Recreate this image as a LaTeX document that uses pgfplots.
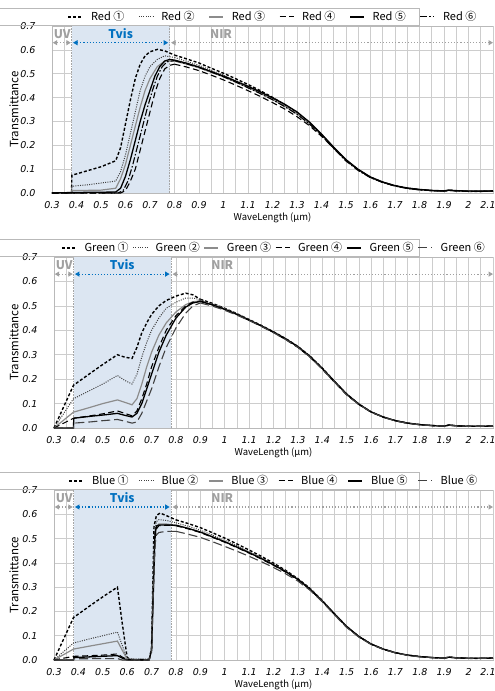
\documentclass[border=0pt]{standalone}
\usepackage{fontspec}
\setmainfont{Noto Sans CJK KR}
\newfontfamily\tickfont{DejaVu Sans}
\usepackage{pgfplots}
\pgfplotsset{compat=1.18}
\usepackage{pgfplotstable}
\usetikzlibrary{arrows.meta,calc}

\definecolor{tvisfill}{RGB}{220,230,242}
\definecolor{tvisblue}{RGB}{0,112,192}
\definecolor{lbl}{RGB}{160,160,160}
\definecolor{gridc}{RGB}{205,205,205}

% NIR part, lam >= 0.8
\pgfplotstableread{
lam  c1    c2    c3    c4    c5    c6
0.80 0.578 0.568 0.553 0.540 0.557 0.555
0.85 0.562 0.552 0.540 0.528 0.544 0.541
0.90 0.545 0.535 0.525 0.513 0.528 0.526
0.95 0.523 0.514 0.506 0.494 0.509 0.507
1.00 0.502 0.494 0.487 0.474 0.490 0.487
1.05 0.479 0.471 0.465 0.452 0.469 0.465
1.10 0.455 0.448 0.442 0.429 0.447 0.441
1.15 0.429 0.423 0.418 0.405 0.424 0.417
1.20 0.401 0.396 0.392 0.379 0.399 0.391
1.25 0.370 0.367 0.364 0.352 0.372 0.362
1.30 0.336 0.334 0.332 0.320 0.340 0.330
1.35 0.295 0.293 0.292 0.283 0.298 0.290
1.40 0.245 0.244 0.243 0.238 0.247 0.242
1.45 0.190 0.191 0.190 0.188 0.192 0.186
1.50 0.138 0.139 0.138 0.138 0.140 0.134
1.55 0.097 0.098 0.097 0.097 0.099 0.094
1.60 0.066 0.066 0.066 0.066 0.067 0.064
1.65 0.045 0.045 0.045 0.045 0.046 0.044
1.70 0.030 0.030 0.030 0.030 0.031 0.029
1.75 0.020 0.020 0.020 0.020 0.021 0.019
1.80 0.014 0.014 0.014 0.014 0.015 0.013
1.85 0.010 0.010 0.010 0.010 0.011 0.010
1.90 0.008 0.008 0.008 0.008 0.009 0.008
1.92 0.012 0.012 0.011 0.012 0.012 0.011
1.95 0.009 0.009 0.009 0.009 0.010 0.009
2.00 0.007 0.007 0.007 0.007 0.008 0.007
2.05 0.007 0.007 0.007 0.007 0.008 0.007
2.10 0.008 0.008 0.008 0.008 0.009 0.008
}\rednir

\pgfplotstableread{
lam  c1    c2    c3    c4    c5    c6
0.90 0.527 0.525 0.520 0.520 0.518 0.512
0.95 0.510 0.508 0.505 0.504 0.504 0.499
1.00 0.490 0.489 0.487 0.486 0.486 0.482
1.05 0.468 0.467 0.465 0.464 0.465 0.462
1.10 0.444 0.443 0.442 0.441 0.442 0.440
1.15 0.420 0.419 0.418 0.417 0.418 0.416
1.20 0.394 0.393 0.392 0.391 0.393 0.390
1.25 0.366 0.365 0.364 0.362 0.365 0.362
1.30 0.334 0.333 0.332 0.330 0.333 0.330
1.35 0.294 0.293 0.292 0.290 0.293 0.290
1.40 0.245 0.244 0.243 0.241 0.244 0.241
1.45 0.191 0.190 0.190 0.188 0.191 0.188
1.50 0.139 0.138 0.138 0.136 0.139 0.136
1.55 0.098 0.097 0.097 0.096 0.098 0.096
1.60 0.066 0.066 0.066 0.065 0.066 0.065
1.65 0.045 0.045 0.045 0.044 0.045 0.044
1.70 0.030 0.030 0.030 0.030 0.030 0.029
1.75 0.020 0.020 0.020 0.020 0.020 0.019
1.80 0.014 0.014 0.014 0.014 0.014 0.013
1.85 0.010 0.010 0.010 0.010 0.010 0.010
1.90 0.008 0.008 0.008 0.008 0.008 0.008
1.92 0.012 0.012 0.011 0.012 0.012 0.011
1.95 0.009 0.009 0.009 0.009 0.009 0.009
2.00 0.007 0.007 0.007 0.007 0.007 0.007
2.05 0.007 0.007 0.007 0.007 0.007 0.007
2.10 0.008 0.008 0.008 0.008 0.008 0.008
}\greennir

\pgfplotstableread{
lam  c1    c2    c3    c4    c5    c6
0.80 0.577 0.565 0.555 0.553 0.555 0.530
0.85 0.562 0.551 0.542 0.540 0.542 0.518
0.90 0.545 0.535 0.527 0.525 0.527 0.505
0.95 0.524 0.514 0.507 0.505 0.507 0.487
1.00 0.502 0.493 0.487 0.485 0.487 0.468
1.05 0.478 0.470 0.465 0.463 0.465 0.448
1.10 0.453 0.446 0.442 0.440 0.442 0.427
1.15 0.427 0.421 0.418 0.416 0.418 0.405
1.20 0.399 0.394 0.392 0.390 0.392 0.381
1.25 0.369 0.366 0.364 0.362 0.364 0.355
1.30 0.335 0.333 0.332 0.330 0.332 0.325
1.35 0.295 0.293 0.292 0.290 0.292 0.287
1.40 0.245 0.244 0.243 0.241 0.243 0.240
1.45 0.190 0.190 0.190 0.188 0.190 0.186
1.50 0.138 0.138 0.138 0.136 0.138 0.134
1.55 0.097 0.097 0.097 0.096 0.097 0.094
1.60 0.066 0.066 0.066 0.065 0.066 0.064
1.65 0.045 0.045 0.045 0.044 0.045 0.044
1.70 0.030 0.030 0.030 0.030 0.030 0.029
1.75 0.020 0.020 0.020 0.020 0.020 0.019
1.80 0.014 0.014 0.014 0.014 0.014 0.013
1.85 0.010 0.010 0.010 0.010 0.010 0.010
1.90 0.008 0.008 0.008 0.008 0.008 0.008
1.92 0.012 0.012 0.011 0.012 0.012 0.011
1.95 0.009 0.009 0.009 0.009 0.009 0.009
2.00 0.007 0.007 0.007 0.007 0.007 0.007
2.05 0.007 0.007 0.007 0.007 0.007 0.007
2.10 0.008 0.008 0.008 0.008 0.008 0.008
}\bluenir

\tikzset{
  s1/.style={black, line width=1.4pt, dash pattern=on 3pt off 2pt},
  s2/.style={black!75, line width=1pt, dash pattern=on 1pt off 1.3pt},
  s3/.style={black!45, line width=1.2pt},
  s4/.style={black, line width=1.1pt, dash pattern=on 6pt off 3.5pt},
  s5/.style={black, line width=1.3pt},
  s6/.style={black, line width=1.1pt, dash pattern=on 7pt off 2pt on 1.5pt off 2pt},
  s6b/.style={black!75, line width=1.1pt, dash pattern=on 9pt off 4pt},
  uvarr/.style={lbl, dotted, line width=1.1pt,
    {Triangle[length=4.5pt,width=5pt]}-{Triangle[length=4.5pt,width=5pt]}},
  lab/.style={font=\bfseries\fontsize{12}{12}\selectfont},
}

\newcommand{\deco}{%
  \fill[tvisfill] (axis cs:0.38,0) rectangle (axis cs:0.78,0.7);
  \draw[gray!70, densely dotted, line width=0.6pt] (axis cs:0.38,0) -- (axis cs:0.38,0.7);
  \draw[gray!70, densely dotted, line width=0.6pt] (axis cs:0.78,0) -- (axis cs:0.78,0.7);
  \draw[gray!55, line width=0.7pt] ($(rel axis cs:0,1)+(0,1pt)$) rectangle ($(rel axis cs:1,1)+(0,18pt)$);
  \node[lab, text=lbl] at (axis cs:0.342,0.668) {UV};
  \node[lab, text=tvisblue] at (axis cs:0.58,0.668) {Tvis};
  \node[lab, text=lbl] at (axis cs:0.99,0.668) {NIR};
  \draw[uvarr] (axis cs:0.303,0.63) -- (axis cs:0.377,0.63);
  \draw[uvarr, tvisblue] (axis cs:0.386,0.63) -- (axis cs:0.774,0.63);
  \draw[uvarr] (axis cs:0.786,0.63) -- (axis cs:2.1,0.63);
}

\pgfplotsset{
  panel/.style={
    scale only axis, anchor=south west, clip=false,
    xmin=0.3, xmax=2.1, ymin=0, ymax=0.7,
    xtick={0.3,0.4,0.5,0.6,0.7,0.8,0.9,1,1.1,1.2,1.3,1.4,1.5,1.6,1.7,1.8,1.9,2},
    extra x ticks={2.1},
    extra x tick style={grid=major, xticklabel style={xshift=-5pt}},
    minor xtick={0.35,0.45,0.55,0.65,0.75,0.85,0.95,1.05,1.15,1.25,1.35,1.45,1.55,1.65,1.75,1.85,1.95,2.05},
    ytick={0,0.1,0.2,0.3,0.4,0.5,0.6,0.7},
    grid=both,
    major grid style={gridc, line width=0.7pt},
    minor grid style={gridc, line width=0.7pt},
    axis line style={gray!55, line width=0.7pt},
    major tick length=0pt, minor tick length=0pt,
    /pgf/number format/assume math mode=true,
    xticklabel style={font=\tickfont\itshape\fontsize{9.5}{9.5}\selectfont,
      anchor=center, yshift=-12pt,
      /pgf/number format/fixed, /pgf/number format/precision=1},
    yticklabel style={font=\tickfont\itshape\fontsize{9.5}{9.5}\selectfont,
      anchor=east, xshift=-13pt,
      /pgf/number format/fixed, /pgf/number format/fixed zerofill,
      /pgf/number format/precision=1},
    xlabel={WaveLength (μm)}, ylabel={Transmittance},
    xlabel style={font=\fontsize{9.5}{9.5}\selectfont, at={(rel axis cs:0.5,0)},
      anchor=center, yshift=-25pt},
    ylabel style={font=\fontsize{11.5}{11.5}\selectfont, anchor=center},
    legend columns=6,
    legend cell align=left,
    legend image code/.code={\draw[##1] (0pt,0pt) -- (14pt,0pt);},
    legend style={at={(0.5,1)}, anchor=south, yshift=0.5pt, draw=none, fill=none,
      font=\fontsize{11}{11}\selectfont, inner sep=1pt,
      nodes={inner xsep=1pt, inner ysep=2pt},
      /tikz/every odd column/.append style={column sep=7pt}},
  },
}

\begin{document}
\begin{tikzpicture}
\path[use as bounding box] (0pt,0pt) rectangle (495pt,-691pt);

% ---------------- Red ----------------
\begin{axis}[panel, at={(52pt,-193pt)}, width=441pt, height=167pt,
  ylabel style={at={(rel axis cs:-0.086,0.5)}},
  legend style={/tikz/every even column/.append style={column sep=13pt}}]
  \deco
  \addplot[s1] coordinates {(0.30,0)(0.38,0)(0.381,0.075)(0.40,0.08)(0.45,0.095)(0.50,0.11)(0.56,0.135)(0.58,0.19)(0.60,0.29)(0.62,0.39)(0.64,0.48)(0.66,0.54)(0.68,0.575)(0.70,0.592)(0.73,0.602)(0.76,0.596)(0.80,0.578)};
  \addlegendentry{Red ①}
  \addplot[s2] coordinates {(0.30,0)(0.38,0)(0.381,0.028)(0.45,0.035)(0.56,0.05)(0.58,0.09)(0.60,0.16)(0.62,0.25)(0.64,0.34)(0.66,0.43)(0.68,0.49)(0.70,0.53)(0.73,0.56)(0.76,0.575)(0.80,0.568)};
  \addlegendentry{Red ②}
  \addplot[s3] coordinates {(0.30,0)(0.38,0)(0.381,0.01)(0.50,0.012)(0.56,0.02)(0.58,0.06)(0.60,0.12)(0.62,0.2)(0.64,0.28)(0.66,0.36)(0.68,0.43)(0.70,0.48)(0.73,0.53)(0.76,0.553)(0.80,0.553)};
  \addlegendentry{Red ③}
  \addplot[s4] coordinates {(0.30,0)(0.58,0)(0.60,0.01)(0.62,0.05)(0.64,0.1)(0.66,0.18)(0.68,0.26)(0.70,0.34)(0.72,0.42)(0.74,0.48)(0.76,0.52)(0.78,0.535)(0.80,0.54)};
  \addlegendentry{Red ④}
  \addplot[s5] coordinates {(0.30,0)(0.38,0.002)(0.56,0.004)(0.58,0.02)(0.60,0.07)(0.62,0.14)(0.64,0.22)(0.66,0.3)(0.68,0.37)(0.70,0.43)(0.72,0.49)(0.74,0.53)(0.76,0.553)(0.78,0.56)(0.80,0.557)};
  \addlegendentry{Red ⑤}
  \addplot[s6] coordinates {(0.30,0)(0.57,0)(0.59,0.01)(0.61,0.05)(0.63,0.12)(0.65,0.2)(0.67,0.28)(0.69,0.36)(0.71,0.43)(0.73,0.49)(0.75,0.53)(0.77,0.55)(0.80,0.555)};
  \addlegendentry{Red ⑥}
  \addplot[s1, forget plot] table[x=lam, y=c1] {\rednir};
  \addplot[s2, forget plot] table[x=lam, y=c2] {\rednir};
  \addplot[s3, forget plot] table[x=lam, y=c3] {\rednir};
  \addplot[s4, forget plot] table[x=lam, y=c4] {\rednir};
  \addplot[s5, forget plot] table[x=lam, y=c5] {\rednir};
  \addplot[s6, forget plot] table[x=lam, y=c6] {\rednir};
\end{axis}

% ---------------- Green ----------------
\begin{axis}[panel, at={(54pt,-428pt)}, width=439pt, height=171pt,
  ylabel style={at={(rel axis cs:-0.091,0.5)}},
  legend style={/tikz/every even column/.append style={column sep=3pt}}]
  \deco
  \addplot[s1] coordinates {(0.30,0)(0.38,0.175)(0.45,0.225)(0.50,0.26)(0.56,0.30)(0.59,0.29)(0.62,0.285)(0.64,0.33)(0.66,0.39)(0.68,0.43)(0.70,0.465)(0.73,0.5)(0.76,0.522)(0.80,0.54)(0.84,0.552)(0.87,0.545)(0.90,0.527)};
  \addlegendentry{Green ①}
  \addplot[s2] coordinates {(0.30,0)(0.38,0.12)(0.45,0.155)(0.50,0.18)(0.56,0.215)(0.59,0.195)(0.62,0.18)(0.64,0.22)(0.66,0.29)(0.68,0.35)(0.70,0.40)(0.73,0.45)(0.76,0.49)(0.80,0.515)(0.84,0.532)(0.87,0.532)(0.90,0.525)};
  \addlegendentry{Green ②}
  \addplot[s3] coordinates {(0.30,0)(0.38,0.065)(0.45,0.085)(0.50,0.1)(0.56,0.115)(0.59,0.105)(0.62,0.095)(0.64,0.12)(0.66,0.18)(0.68,0.25)(0.70,0.31)(0.73,0.38)(0.76,0.43)(0.80,0.475)(0.84,0.505)(0.87,0.517)(0.90,0.52)};
  \addlegendentry{Green ③}
  \addplot[s4] coordinates {(0.30,0)(0.38,0.04)(0.45,0.05)(0.50,0.058)(0.56,0.07)(0.59,0.06)(0.62,0.05)(0.64,0.07)(0.66,0.12)(0.68,0.18)(0.70,0.25)(0.73,0.33)(0.76,0.40)(0.80,0.46)(0.84,0.50)(0.87,0.515)(0.90,0.52)};
  \addlegendentry{Green ④}
  \addplot[s5] coordinates {(0.30,0)(0.38,0)(0.381,0.04)(0.45,0.048)(0.50,0.053)(0.56,0.06)(0.59,0.052)(0.62,0.045)(0.64,0.06)(0.66,0.10)(0.68,0.16)(0.70,0.22)(0.73,0.31)(0.76,0.38)(0.80,0.45)(0.84,0.495)(0.87,0.512)(0.90,0.518)};
  \addlegendentry{Green ⑤}
  \addplot[s6b] coordinates {(0.30,0)(0.38,0)(0.381,0.02)(0.45,0.025)(0.50,0.03)(0.56,0.035)(0.59,0.028)(0.62,0.02)(0.64,0.025)(0.66,0.06)(0.68,0.11)(0.70,0.16)(0.73,0.25)(0.76,0.33)(0.80,0.41)(0.84,0.47)(0.87,0.50)(0.90,0.512)};
  \addlegendentry{Green ⑥}
  \addplot[s1, forget plot] table[x=lam, y=c1] {\greennir};
  \addplot[s2, forget plot] table[x=lam, y=c2] {\greennir};
  \addplot[s3, forget plot] table[x=lam, y=c3] {\greennir};
  \addplot[s4, forget plot] table[x=lam, y=c4] {\greennir};
  \addplot[s5, forget plot] table[x=lam, y=c5] {\greennir};
  \addplot[s6b, forget plot] table[x=lam, y=c6] {\greennir};
\end{axis}

% ---------------- Blue ----------------
\begin{axis}[panel, at={(54pt,-660pt)}, width=439pt, height=170pt,
  ylabel style={at={(rel axis cs:-0.091,0.5)}},
  legend style={/tikz/every even column/.append style={column sep=9pt}}]
  \deco
  \addplot[s1] coordinates {(0.30,0)(0.38,0.175)(0.45,0.225)(0.50,0.26)(0.56,0.30)(0.58,0.15)(0.60,0.01)(0.62,0)(0.69,0)(0.70,0.05)(0.705,0.3)(0.71,0.55)(0.72,0.595)(0.735,0.605)(0.76,0.595)(0.80,0.577)};
  \addlegendentry{Blue ①}
  \addplot[s2] coordinates {(0.30,0)(0.38,0.07)(0.45,0.088)(0.50,0.1)(0.56,0.115)(0.58,0.06)(0.60,0.005)(0.69,0.003)(0.70,0.05)(0.706,0.3)(0.712,0.52)(0.72,0.57)(0.73,0.578)(0.76,0.575)(0.80,0.565)};
  \addlegendentry{Blue ②}
  \addplot[s3] coordinates {(0.30,0)(0.38,0.045)(0.45,0.058)(0.50,0.067)(0.56,0.078)(0.58,0.04)(0.60,0.003)(0.69,0.002)(0.70,0.04)(0.707,0.3)(0.713,0.5)(0.72,0.545)(0.73,0.56)(0.76,0.56)(0.80,0.555)};
  \addlegendentry{Blue ③}
  \addplot[s4] coordinates {(0.30,0)(0.38,0.015)(0.50,0.02)(0.56,0.025)(0.58,0.012)(0.60,0.002)(0.69,0.002)(0.70,0.04)(0.707,0.3)(0.714,0.5)(0.72,0.54)(0.73,0.553)(0.76,0.555)(0.80,0.553)};
  \addlegendentry{Blue ④}
  \addplot[s5] coordinates {(0.30,0)(0.38,0)(0.381,0.01)(0.56,0.018)(0.58,0.008)(0.60,0)(0.69,0)(0.70,0.04)(0.708,0.3)(0.714,0.52)(0.72,0.552)(0.73,0.556)(0.76,0.556)(0.80,0.555)};
  \addlegendentry{Blue ⑤}
  \addplot[s6b] coordinates {(0.30,0)(0.38,0)(0.381,0.005)(0.56,0.006)(0.58,0)(0.69,0)(0.70,0.03)(0.708,0.3)(0.715,0.48)(0.72,0.515)(0.73,0.525)(0.76,0.53)(0.80,0.53)};
  \addlegendentry{Blue ⑥}
  \addplot[s1, forget plot] table[x=lam, y=c1] {\bluenir};
  \addplot[s2, forget plot] table[x=lam, y=c2] {\bluenir};
  \addplot[s3, forget plot] table[x=lam, y=c3] {\bluenir};
  \addplot[s4, forget plot] table[x=lam, y=c4] {\bluenir};
  \addplot[s5, forget plot] table[x=lam, y=c5] {\bluenir};
  \addplot[s6b, forget plot] table[x=lam, y=c6] {\bluenir};
\end{axis}
\end{tikzpicture}
\end{document}
